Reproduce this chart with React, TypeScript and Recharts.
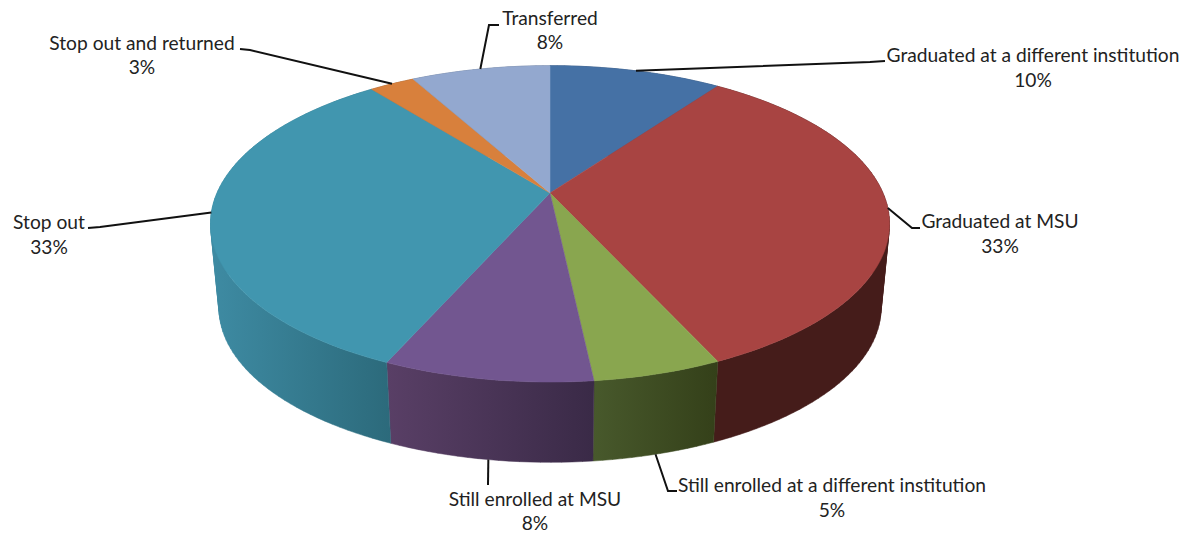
import React from "react";
import { PieChart, Pie, Cell } from "recharts";

const categories = [
  "Graduated at a different institution",
  "Graduated at MSU",
  "Still enrolled at a different institution",
  "Still enrolled at MSU",
  "Stop out",
  "Stop out and returned",
  "Transferred",
];
const shares = [9.9, 33.3, 5.1, 8.3, 32.8, 2.6, 8.0];
const topColors = ["#4571A5", "#A84442", "#89A64F", "#725690", "#4196AF", "#D8803C", "#93A8CF"];
const wallLeft = ["#2e4a6e", "#451c1a", "#48592c", "#593f66", "#3e8ba3", "#8a5226", "#5f6e88"];
const wallRight = ["#2e4a6e", "#451c1a", "#344019", "#3a2a47", "#2c6a7b", "#8a5226", "#5f6e88"];

const rows = categories.map((name, i) => ({ name, value: shares[i] }));

// label placement: text centre, the two line centres, leader route after the rim anchor
const labelLayout = [
  { x: 1033, y1: 54, y2: 79, wall: false, route: [[870, 62], [885, 61]] },
  { x: 1000, y1: 220, y2: 245, wall: false, route: [[912, 228], [920, 228]] },
  { x: 832, y1: 484, y2: 509, wall: true, route: [[668, 491], [677, 491]] },
  { x: 535, y1: 498, y2: 522, wall: true, route: [[488, 485]] },
  { x: 49, y1: 221, y2: 246, wall: false, route: [[100, 227], [88, 228]] },
  { x: 142, y1: 42, y2: 66, wall: false, route: [[250, 50], [240, 49]] },
  { x: 550, y1: 17, y2: 41, wall: false, route: [[489, 25], [499, 25]] },
];

const RAD = Math.PI / 180;
const K = 0.195; // perspective strength
const SQUASH = 0.457; // vertical foreshortening
const DEPTH_SCALE = 0.975; // lower rim is further from the viewer
const DEPTH_DROP = 85; // drop of the lower rim

function rim(cx: number, cy: number, r: number, deg: number, lower = false) {
  const u = Math.sin(deg * RAD);
  const v = Math.cos(deg * RAD);
  const d = 1 + K * u;
  const s = lower ? DEPTH_SCALE : 1;
  return [cx + (s * r * v) / d, cy + (lower ? DEPTH_DROP : 0) - (s * r * SQUASH * u) / d];
}

function arc(cx: number, cy: number, r: number, a0: number, a1: number, lower = false) {
  const n = Math.max(2, Math.ceil(Math.abs(a1 - a0) / 1.5));
  const pts: number[][] = [];
  for (let i = 0; i <= n; i++) pts.push(rim(cx, cy, r, a0 + ((a1 - a0) * i) / n, lower));
  return pts;
}

const toPath = (pts: number[][]) =>
  "M" + pts.map((p) => `${p[0].toFixed(2)},${p[1].toFixed(2)}`).join("L") + "Z";

// every wall strip wound the same way, so overlapping strips never cancel
function orient(pts: number[][]) {
  let area = 0;
  pts.forEach((p, i) => {
    const q = pts[(i + 1) % pts.length];
    area += p[0] * q[1] - q[0] * p[1];
  });
  return area < 0 ? [...pts].reverse() : pts;
}

function TopFace(props: any) {
  const { cx, cy, outerRadius, startAngle, endAngle, index } = props;
  const pts = [[cx, cy], ...arc(cx, cy, outerRadius, startAngle, endAngle)];
  return <path d={toPath(pts)} fill={topColors[index]} stroke={topColors[index]} strokeWidth={0.5} />;
}

function WallFace(props: any) {
  const { cx, cy, outerRadius, startAngle, endAngle, index } = props;
  const upper = arc(cx, cy, outerRadius, startAngle, endAngle);
  const lower = arc(cx, cy, outerRadius, startAngle, endAngle, true);
  const strips = upper.slice(0, -1).map((p, i) =>
    toPath(orient([p, upper[i + 1], lower[i + 1], lower[i]]))
  );
  const xs = [...upper, ...lower].map((p) => p[0]);
  const id = `wall-${index}`;
  return (
    <g>
      <defs>
        <linearGradient id={id} gradientUnits="userSpaceOnUse" x1={Math.min(...xs)} x2={Math.max(...xs)} y1={0} y2={0}>
          <stop offset="0%" stopColor={wallLeft[index]} />
          <stop offset="100%" stopColor={wallRight[index]} />
        </linearGradient>
      </defs>
      <path d={strips.join("")} fill={`url(#${id})`} stroke={`url(#${id})`} strokeWidth={0.5} />
    </g>
  );
}

function SliceLabel(props: any) {
  const { cx, cy, outerRadius, midAngle, index } = props;
  const l = labelLayout[index];
  const start = rim(cx, cy, outerRadius, midAngle, l.wall);
  const line = [start, ...l.route].map((p) => p.join(",")).join(" ");
  const common = {
    x: l.x,
    textAnchor: "middle" as const,
    dominantBaseline: "central" as const,
    fontFamily: "Lato, sans-serif",
    fontSize: 19.2,
    fill: "#222222",
  };
  return (
    <g>
      <polyline points={line} fill="none" stroke="#111111" strokeWidth={2} />
      <text {...common} y={l.y1}>{categories[index]}</text>
      <text {...common} y={l.y2}>{`${Math.round(shares[index])}%`}</text>
    </g>
  );
}

export default function App() {
  return (
    <div style={{ position: "absolute", left: 0, top: 0, width: 1186, height: 533, background: "#fff" }}>
      <PieChart width={1186} height={533} margin={{ top: 0, right: 0, bottom: 0, left: 0 }}>
        <Pie
          data={rows}
          dataKey="value"
          nameKey="name"
          cx={550}
          cy={193}
          outerRadius={333}
          startAngle={90}
          endAngle={-270}
          stroke="none"
          shape={WallFace}
          isAnimationActive={false}
        >
          {rows.map((r) => (
            <Cell key={r.name} />
          ))}
        </Pie>
        <Pie
          data={rows}
          dataKey="value"
          nameKey="name"
          cx={550}
          cy={193}
          outerRadius={333}
          startAngle={90}
          endAngle={-270}
          stroke="none"
          shape={TopFace}
          label={SliceLabel}
          labelLine={false}
          isAnimationActive={false}
        >
          {rows.map((r) => (
            <Cell key={r.name} />
          ))}
        </Pie>
      </PieChart>
    </div>
  );
}
